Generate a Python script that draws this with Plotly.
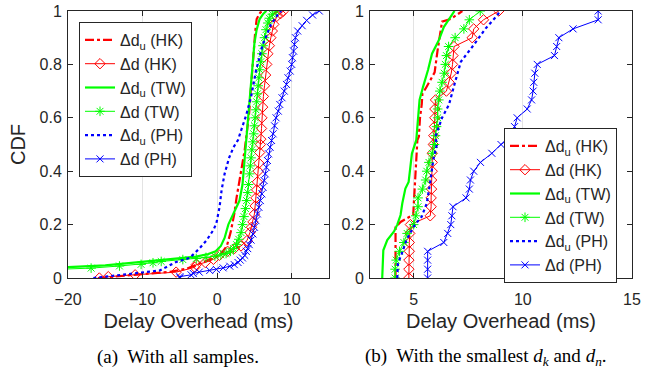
import plotly.graph_objects as go

# ---------------- data ----------------
# Left panel: all samples
a_du_hk_x = [-16, -12, -8, -6.3, -4.1, -2.3, -0.6, 0.5, 1.3, 1.8, 2.3, 2.6, 3.0, 3.4, 3.7, 4.0, 4.3, 4.5, 4.7, 4.9, 5.1, 5.3, 5.8, 6.3]
a_du_hk_y = [0.0, 0.01, 0.018, 0.023, 0.035, 0.054, 0.073, 0.09, 0.12, 0.17, 0.24, 0.3, 0.367, 0.43, 0.48, 0.55, 0.62, 0.7, 0.78, 0.85, 0.92, 0.97, 0.995, 1.0]

a_d_hk_x = [-15.8, -14.6, -11, -5.5, -3.0, -2.8, -1.6, -0.5, 0.3, 1.4, 2.3, 3.2, 4.0, 4.4, 4.6, 4.8, 5.0, 5.1, 5.2, 5.3, 5.4, 5.5, 5.6, 5.7, 5.8, 5.85, 5.95, 6.0, 6.1, 6.2, 6.35, 6.5, 6.65, 6.8, 7.0, 7.2, 7.4, 7.6, 8.0, 8.5, 8.9]
a_d_hk_y = [0.0, 0.005, 0.012, 0.022, 0.04, 0.05, 0.058, 0.07, 0.085, 0.1, 0.11, 0.12, 0.14, 0.17, 0.19, 0.21, 0.24, 0.27, 0.3, 0.33, 0.36, 0.4, 0.43, 0.47, 0.5, 0.52, 0.56, 0.6, 0.64, 0.68, 0.72, 0.76, 0.8, 0.84, 0.87, 0.9, 0.925, 0.95, 0.98, 0.99, 1.0]

a_du_tw_x = [-25, -20, -15, -9, -5, -2.8, -1.2, -0.2, 0.5, 1.0, 1.5, 2.2, 3.0, 3.4, 3.6, 3.9, 4.2, 4.4, 4.7, 5.0, 5.3, 5.7, 6.2, 6.6]
a_du_tw_y = [0.038, 0.041, 0.047, 0.062, 0.072, 0.08, 0.09, 0.1, 0.12, 0.15, 0.2, 0.24, 0.29, 0.35, 0.42, 0.517, 0.6, 0.7, 0.8, 0.88, 0.93, 0.97, 0.99, 1.0]

a_d_tw_x = [-24, -16.9, -13.1, -10.2, -8.6, -7.5, -4.6, -2.8, -1.5, -0.3, 0.5, 1.2, 1.8, 2.2, 2.6, 2.9, 3.2, 3.4, 3.6, 3.8, 3.95, 4.1, 4.2, 4.35, 4.45, 4.55, 4.65, 4.8, 4.9, 5.0, 5.1, 5.2, 5.3, 5.4, 5.5, 5.6, 5.7, 5.85, 6.0, 6.15, 6.35, 6.55, 6.8, 7.0, 7.4, 7.9]
a_d_tw_y = [0.03, 0.037, 0.045, 0.051, 0.057, 0.062, 0.069, 0.073, 0.077, 0.082, 0.087, 0.092, 0.1, 0.11, 0.125, 0.145, 0.17, 0.2, 0.23, 0.26, 0.29, 0.32, 0.35, 0.39, 0.42, 0.45, 0.48, 0.51, 0.54, 0.57, 0.6, 0.63, 0.66, 0.69, 0.72, 0.75, 0.78, 0.81, 0.84, 0.87, 0.9, 0.93, 0.955, 0.973, 0.988, 1.0]

a_du_ph_x = [-16.6, -14, -10.8, -7.7, -5.5, -3.7, -2.4, -1.4, -0.5, -0.1, 0.33, 0.6, 1.0, 1.6, 2.2, 2.8, 3.3, 3.9, 4.6, 5.2, 6.1, 7.2, 8.1, 8.6]
a_du_ph_y = [0.0, 0.008, 0.016, 0.028, 0.06, 0.075, 0.11, 0.142, 0.18, 0.205, 0.267, 0.33, 0.39, 0.45, 0.49, 0.517, 0.56, 0.61, 0.685, 0.775, 0.873, 0.948, 0.985, 1.0]

a_d_ph_x = [-5.0, -5.0, -3.5, -3.2, -2.4, -1.0, -0.1, 0.8, 1.7, 2.3, 2.8, 3.1, 3.4, 3.7, 3.9, 4.1, 4.3, 4.55, 4.8, 5.0, 5.2, 5.4, 5.6, 5.8, 6.0, 6.15, 6.3, 6.45, 6.6, 6.75, 6.9, 7.1, 7.3, 7.5, 7.7, 7.9, 8.2, 8.4, 8.7, 9.0, 9.3, 9.5, 9.8, 10.0, 10.1, 10.25, 10.35, 10.5, 10.8, 11.4, 12.0, 12.8, 13.7]
a_d_ph_y = [0.0, 0.005, 0.012, 0.017, 0.022, 0.028, 0.032, 0.038, 0.044, 0.05, 0.058, 0.067, 0.075, 0.085, 0.1, 0.11, 0.125, 0.142, 0.165, 0.19, 0.215, 0.24, 0.265, 0.29, 0.315, 0.34, 0.365, 0.39, 0.415, 0.44, 0.465, 0.49, 0.515, 0.54, 0.57, 0.6, 0.625, 0.65, 0.675, 0.7, 0.725, 0.75, 0.775, 0.8, 0.825, 0.85, 0.875, 0.9, 0.925, 0.945, 0.965, 0.985, 1.0]

# Right panel: smallest d_k and d_n
cdf_levels = [0.0, 0.033, 0.067, 0.1, 0.133, 0.167, 0.2, 0.233, 0.267, 0.3, 0.333, 0.367, 0.4, 0.433, 0.467, 0.5,
              0.533, 0.567, 0.6, 0.633, 0.667, 0.7, 0.733, 0.767, 0.8, 0.833, 0.867, 0.9, 0.933, 0.967, 1.0]

b_du_hk_x = [4.17, 4.17, 4.17, 4.17, 4.4, 4.98, 5.0, 5.09, 5.17, 5.24, 5.29, 5.37, 5.4, 5.55, 5.96, 6.09, 6.2, 6.3, 6.7, 7.23]
b_du_hk_y = [0.0, 0.117, 0.19, 0.19, 0.21, 0.237, 0.268, 0.393, 0.517, 0.53, 0.6, 0.65, 0.69, 0.71, 0.77, 0.85, 0.9, 0.96, 0.97, 1.0]

b_d_hk_x = [4.78, 4.78, 4.78, 4.8, 4.8, 4.82, 4.85, 5.76, 5.8, 5.8, 5.82, 5.82, 5.85, 5.85, 5.85, 5.9,
            5.92, 5.95, 5.97, 5.97, 6.0, 6.5, 6.62, 6.72, 6.78, 6.8, 6.85, 7.68, 7.75, 8.2, 8.9]

b_du_tw_x = [3.56, 3.61, 3.79, 4.1, 4.25, 4.4, 4.48, 4.62, 4.77, 4.92, 5.12, 5.18, 5.27, 5.43, 5.66, 5.84, 6.15, 6.38, 6.87]
b_du_tw_y = [0.0, 0.104, 0.142, 0.174, 0.2, 0.236, 0.28, 0.335, 0.36, 0.466, 0.517, 0.58, 0.667, 0.716, 0.78, 0.84, 0.89, 0.94, 1.0]

b_d_tw_x = [4.15, 4.15, 4.2, 4.35, 4.55, 4.7, 5.0, 5.1, 5.2, 5.2, 5.4, 5.55, 5.6, 5.7, 5.85, 5.95,
            6.0, 6.05, 6.1, 6.1, 6.15, 6.2, 6.3, 6.4, 6.45, 6.5, 6.6, 6.9, 7.3, 7.55, 8.05]

b_du_ph_x = [4.25, 4.28, 4.46, 4.67, 4.83, 5.06, 5.37, 5.6, 5.75, 5.9, 6.06, 6.0, 6.3, 6.62, 6.85, 7.16, 7.77, 8.3, 8.84, 8.95]
b_du_ph_y = [0.0, 0.055, 0.092, 0.142, 0.167, 0.2, 0.23, 0.28, 0.355, 0.443, 0.5, 0.53, 0.6, 0.65, 0.72, 0.81, 0.875, 0.935, 0.985, 1.0]

b_d_ph_x = [5.64, 5.64, 5.64, 5.64, 6.38, 6.56, 6.7, 6.75, 6.8, 7.4, 7.55, 7.6, 7.75, 8.06, 8.58, 9.0,
            9.55, 9.62, 9.74, 10.2, 10.4, 10.47, 10.5, 10.55, 10.66, 11.45, 11.55, 11.65, 12.3, 13.45, 13.45]

x_ticks_a = [-20, -10, 0, 10]
x_ticks_b = [5, 10, 15]
y_ticks = [0, 0.2, 0.4, 0.6, 0.8, 1]
y_ticktext = ["0", "0.2", "0.4", "0.6", "0.8", "1"]

names = ["Δd<sub>u</sub> (HK)", "Δd (HK)", "Δd<sub>u</sub> (TW)", "Δd (TW)", "Δd<sub>u</sub> (PH)", "Δd (PH)"]

RED, GREEN, BLUE = "rgb(255,0,0)", "rgb(0,255,0)", "rgb(0,0,255)"
AX = "#262626"

fig = go.Figure()


def add_set(data, xa, ya, legend):
    styles = [
        dict(mode="lines", line=dict(color=RED, width=2.2, dash="dashdot")),
        dict(mode="lines+markers", line=dict(color=RED, width=1),
             marker=dict(symbol="diamond-open", size=8, color=RED, line=dict(width=1, color=RED))),
        dict(mode="lines", line=dict(color=GREEN, width=2.2)),
        dict(mode="lines+markers", line=dict(color=GREEN, width=1),
             marker=dict(symbol="asterisk-open", size=8, color=GREEN, line=dict(width=1, color=GREEN))),
        dict(mode="lines", line=dict(color=BLUE, width=2.2, dash="dot")),
        dict(mode="lines+markers", line=dict(color=BLUE, width=1),
             marker=dict(symbol="x-thin-open", size=7, color=BLUE, line=dict(width=1, color=BLUE))),
    ]
    for (x, y), name, st in zip(data, names, styles):
        fig.add_trace(go.Scatter(x=x, y=y, name=name, xaxis=xa, yaxis=ya, legend=legend,
                                 cliponaxis=True, **st))


add_set([(a_du_hk_x, a_du_hk_y), (a_d_hk_x, a_d_hk_y), (a_du_tw_x, a_du_tw_y),
         (a_d_tw_x, a_d_tw_y), (a_du_ph_x, a_du_ph_y), (a_d_ph_x, a_d_ph_y)], "x", "y", "legend")
add_set([(b_du_hk_x, b_du_hk_y), (b_d_hk_x, cdf_levels), (b_du_tw_x, b_du_tw_y),
         (b_d_tw_x, cdf_levels), (b_du_ph_x, b_du_ph_y), (b_d_ph_x, cdf_levels)], "x2", "y2", "legend2")

W, H = 662, 371
axis_common = dict(showline=True, linecolor=AX, linewidth=1, mirror="ticks", ticks="inside",
                   ticklen=5, tickcolor=AX, zeroline=False, automargin=False,
                   tickfont=dict(family="Liberation Sans, Arial", size=16, color=AX))
ydom = [(H - 278) / H, (H - 11) / H]
serif = dict(family="Liberation Serif, Times New Roman", size=19, color="black")
leg_common = dict(xanchor="left", yanchor="top", bgcolor="white", bordercolor=AX, borderwidth=1,
                  font=dict(size=16, color=AX), tracegroupgap=0, itemwidth=30)
xtitle = dict(text="Delay Overhead (ms)", font=dict(size=20, color=AX), standoff=6)

fig.update_layout(
    width=W, height=H, margin=dict(l=0, r=0, t=0, b=0, autoexpand=False),
    plot_bgcolor="white", paper_bgcolor="white",
    font=dict(family="Liberation Sans, Arial", color=AX),
    xaxis=dict(domain=[68 / W, 329 / W], range=[-20, 15], tickvals=x_ticks_a, showgrid=True,
               gridcolor="#e3e3e3", anchor="y", ticklabelstandoff=7, title=xtitle, **axis_common),
    yaxis=dict(domain=ydom, range=[0, 1], tickvals=y_ticks, ticktext=y_ticktext, showgrid=False,
               anchor="x", ticklabelstandoff=2,
               title=dict(text="CDF", font=dict(size=20, color=AX), standoff=8), **axis_common),
    xaxis2=dict(domain=[370 / W, 632 / W], range=[3, 15], tickvals=x_ticks_b, showgrid=True,
                gridcolor="#e3e3e3", anchor="y2", ticklabelstandoff=7, title=xtitle, **axis_common),
    yaxis2=dict(domain=ydom, range=[0, 1], tickvals=y_ticks, ticktext=y_ticktext, showgrid=False,
                anchor="x2", ticklabelstandoff=2, **axis_common),
    legend=dict(x=79 / W, y=(H - 22) / H, **leg_common),
    legend2=dict(x=504 / W, y=(H - 128) / H, **leg_common),
    annotations=[
        dict(text="(a)  With all samples.", x=178 / W, y=(H - 357) / H, xref="paper", yref="paper",
             xanchor="center", yanchor="middle", showarrow=False, font=serif),
        dict(text="(b)  With the smallest <i>d<sub>k</sub></i> and <i>d<sub>n</sub></i>.", x=486 / W,
             y=(H - 357) / H, xref="paper", yref="paper", xanchor="center", yanchor="middle",
             showarrow=False, font=serif),
    ],
)

fig.write_html("out.html", config={"displayModeBar": False},
               post_script="document.body.style.margin='0px';")
